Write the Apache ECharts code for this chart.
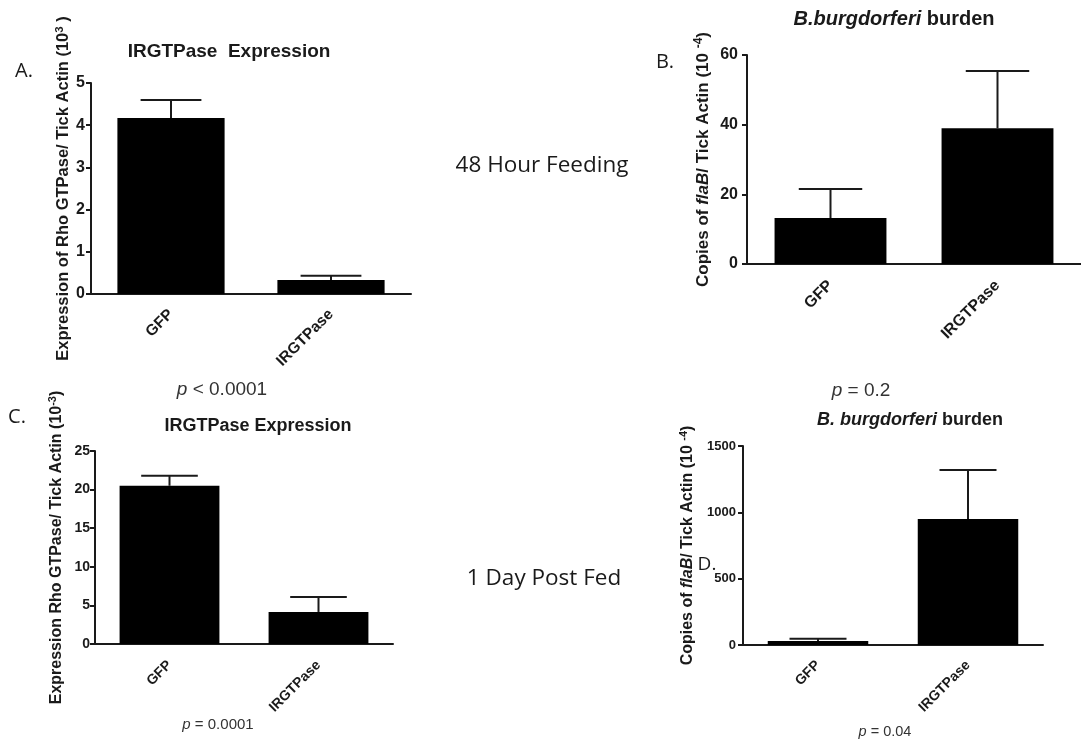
<!DOCTYPE html>
<html><head><meta charset="utf-8">
<script src="https://cdn.jsdelivr.net/npm/echarts@6/dist/echarts.min.js"></script>
<style>html,body{margin:0;padding:0;background:#fff}#c{width:1081px;height:742px}</style>
</head><body><div id="c"></div>
<script>
const categories = ['GFP', 'IRGTPase'];
const aMeans = [4.17, 0.33];
const aErrTop = [4.6, 0.43];
const bMeans = [13.2, 39.0];
const bErrTop = [21.5, 55.4];
const cMeans = [20.5, 4.15];
const cErrTop = [21.8, 6.1];
const dMeans = [30, 950];
const dErrTop = [48, 1320];
const aTicks = {min: 0, max: 5, interval: 1};
const bTicks = {min: 0, max: 60, interval: 20};
const cTicks = {min: 0, max: 25, interval: 5};
const dTicks = {min: 0, max: 1500, interval: 500};

const FONT = 'Liberation Sans';
const INK = '#1a1a1a';
const chart = echarts.init(document.getElementById('c'));

function errRender(params, api) {
  const x = api.value(0), v = api.value(1), e = api.value(2);
  const base = api.coord([x, v]);
  const top = api.coord([x, e]);
  const half = api.size([1, 0])[0] * 0.19;
  return {type: 'group', children: [
    {type: 'line', shape: {x1: base[0], y1: base[1], x2: top[0], y2: top[1]}, style: {stroke: INK, lineWidth: 2}},
    {type: 'line', shape: {x1: top[0] - half, y1: top[1], x2: top[0] + half, y2: top[1]}, style: {stroke: INK, lineWidth: 2}}
  ]};
}

const grids = [
  {left: 91, top: 83, width: 320, height: 211},
  {left: 747, top: 55, width: 340, height: 209},
  {left: 95, top: 451, width: 298, height: 193},
  {left: 743, top: 446, width: 300, height: 199}
];
const ticks = [aTicks, bTicks, cTicks, dTicks];
const nameRich = (fs) => ({
  n: {fontFamily: FONT, fontWeight: 'bold', fontSize: fs, color: INK, lineHeight: fs + 4},
  i: {fontFamily: FONT, fontWeight: 'bold', fontStyle: 'italic', fontSize: fs, color: INK, lineHeight: fs + 4},
  sup: {fontFamily: FONT, fontWeight: 'bold', fontSize: fs - 5, color: INK, verticalAlign: 'top', lineHeight: fs + 4}
});
const yNames = [
  '{n|Expression of Rho GTPase/ Tick Actin (10}{sup|3}{n| )}',
  '{n|Copies of }{i|flaB}{n|/ Tick Actin (10 }{sup|-4}{n|)}',
  '{n|Expression Rho GTPase/ Tick Actin (10}{sup|-3}{n|)}',
  '{n|Copies of }{i|flaB}{n|/ Tick Actin (10 }{sup|-4}{n|)}'
];
const nameFs = [16.5, 17, 16, 16];
const nameGaps = [17, 33, 28, 45];
const tickFs = [16, 16, 14, 13];
const tickMargin = [6, 9, 5, 7];
const xLabFs = [15.5, 16, 14, 14];
const xLabMargin = [18, 19, 19, 18];

const xAxis = grids.map((g, k) => ({
  type: 'category', gridIndex: k, data: categories, boundaryGap: true,
  axisLine: {lineStyle: {color: INK, width: 2}},
  axisTick: {alignWithLabel: true, length: 6, lineStyle: {color: INK, width: 2}},
  axisLabel: {rotate: 45, fontFamily: FONT, fontWeight: 'bold', fontSize: xLabFs[k], color: INK, margin: xLabMargin[k]}
}));
const yAxis = grids.map((g, k) => ({
  type: 'value', gridIndex: k, min: ticks[k].min, max: ticks[k].max, interval: ticks[k].interval,
  splitLine: {show: false},
  axisLine: {show: true, lineStyle: {color: INK, width: 2}},
  axisTick: {show: true, length: 5, lineStyle: {color: INK, width: 2}},
  axisLabel: {fontFamily: FONT, fontWeight: 'bold', fontSize: tickFs[k], color: INK, margin: tickMargin[k],
    formatter: (v) => String(v)},
  name: yNames[k], nameLocation: 'middle', nameGap: nameGaps[k],
  nameTextStyle: {rich: nameRich(nameFs[k])}
}));

const means = [aMeans, bMeans, cMeans, dMeans];
const errs = [aErrTop, bErrTop, cErrTop, dErrTop];
const series = [];
means.forEach((m, k) => {
  series.push({type: 'bar', xAxisIndex: k, yAxisIndex: k, data: m, barWidth: '67%',
    itemStyle: {color: '#000'}, silent: true, animation: false});
  series.push({type: 'custom', xAxisIndex: k, yAxisIndex: k, renderItem: errRender,
    data: m.map((v, i) => [i, v, errs[k][i]]), silent: true, animation: false, z: 1});
});

const titleRich = (fs) => ({
  b: {fontFamily: FONT, fontWeight: 'bold', fontSize: fs, color: INK},
  bi: {fontFamily: FONT, fontWeight: 'bold', fontStyle: 'italic', fontSize: fs, color: INK}
});
const title = [
  {text: '{b|IRGTPase  Expression}', left: 224, top: 37, textAlign: 'center', textStyle: {rich: titleRich(19)}},
  {text: '{bi|B.burgdorferi}{b| burden}', left: 889, top: 4, textAlign: 'center', textStyle: {rich: titleRich(20)}},
  {text: '{b|IRGTPase Expression}', left: 253, top: 412, textAlign: 'center', textStyle: {rich: titleRich(18)}},
  {text: '{bi|B. burgdorferi}{b| burden}', left: 905, top: 406, textAlign: 'center', textStyle: {rich: titleRich(18)}}
];

const calibri = '"Open Sans", "Noto Sans", sans-serif';
const plain = (txt, x, y, fs) => ({type: 'text', x: x, y: y,
  style: {text: txt, fontFamily: calibri, fontSize: fs, fill: INK, align: 'center', verticalAlign: 'middle'}});
const pval = (rest, x, y, fs) => ({type: 'text', x: x, y: y,
  style: {text: '{i|p}{n|' + rest + '}', align: 'center', verticalAlign: 'middle',
    rich: {i: {fontFamily: FONT, fontStyle: 'italic', fontSize: fs, fill: '#333'}, n: {fontFamily: FONT, fontSize: fs, fill: '#333'}}}});

const graphic = [
  plain('A.', 24, 71, 20),
  plain('B.', 665, 62, 20),
  plain('C.', 17, 417, 20),
  plain('D.', 707, 565, 19),
  plain('48 Hour Feeding', 542, 166, 22.5),
  plain('1 Day Post Fed', 544, 579, 22.5),
  pval(' < 0.0001', 222, 390, 19),
  pval(' = 0.2', 861, 391, 19),
  pval(' = 0.0001', 218, 725, 15),
  pval(' = 0.04', 885, 732, 14.5)
];

chart.setOption({
  animation: false,
  backgroundColor: '#fff',
  title: title,
  grid: grids,
  xAxis: xAxis,
  yAxis: yAxis,
  series: series,
  graphic: graphic
});
</script></body></html>
